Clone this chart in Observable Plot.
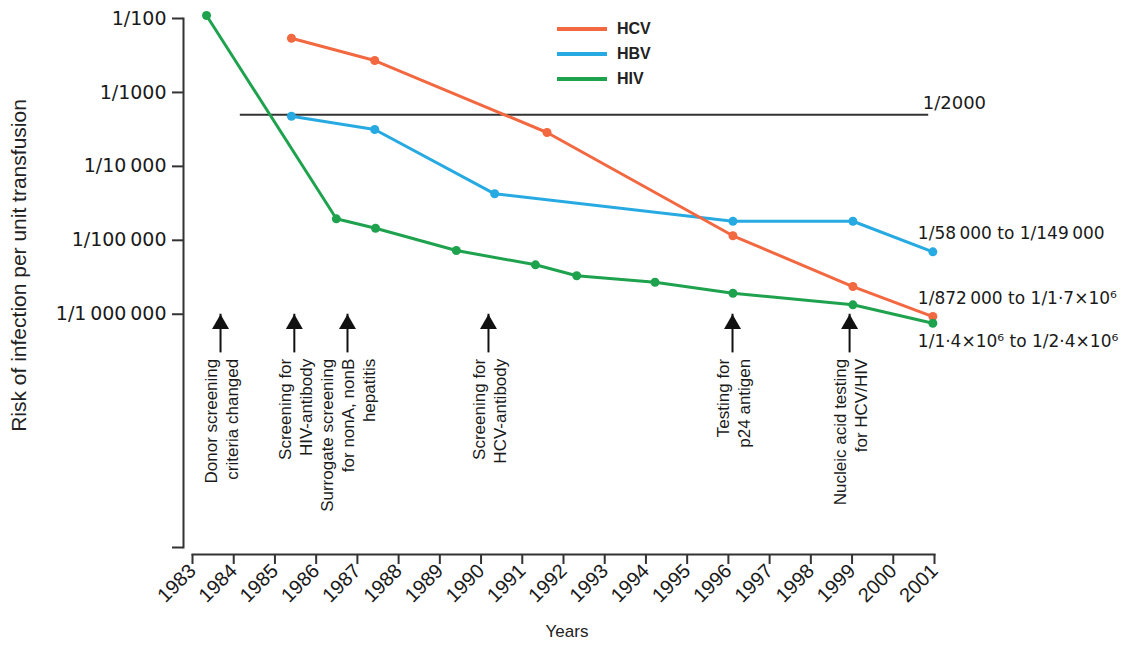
<!DOCTYPE html>
<html>
<head>
<meta charset="utf-8">
<script src="https://cdn.jsdelivr.net/npm/d3@7"></script>
<script src="https://cdn.jsdelivr.net/npm/@observablehq/plot@0.6"></script>
<style>
  body { margin: 0; background: #fff; }
  #wrap { position: relative; width: 1129px; height: 653px; }
  #legend { position: absolute; left: 557px; top: 16px; font: bold 16px "Liberation Sans", Arial, sans-serif; color: #222; }
  #legend .item { display: flex; align-items: center; height: 25px; }
  #legend .sw { width: 50px; height: 4px; margin-right: 10px; }
</style>
</head>
<body>
<div id="wrap"><div id="legend"></div></div>
<script>
// ---- Data (risk of infection per unit) ----
const seriesNames = ["HCV", "HBV", "HIV"];
const seriesColors = ["#f26841", "#27aae1", "#1fa24e"];

const yearsHCV = [1985.40, 1987.42, 1991.60, 1996.11, 1999.02, 2000.96];
const riskHCV  = [1/185, 1/370, 1/3483, 1/86900, 1/422000, 1/1074000];

const yearsHBV = [1985.40, 1987.42, 1990.33, 1996.11, 1999.02, 2000.96];
const riskHBV  = [1/2097, 1/3172, 1/23500, 1/55200, 1/55200, 1/143200];

const yearsHIV = [1983.34, 1986.49, 1987.44, 1989.40, 1991.32, 1992.32, 1994.22, 1996.11, 1999.02, 2000.96];
const riskHIV  = [1/91, 1/51200, 1/68600, 1/137400, 1/214500, 1/302000, 1/369000, 1/520000, 1/746000, 1/1322000];

const endLabels = {
  HBV: "1/58\u2009000 to 1/149\u2009000",
  HCV: "1/872\u2009000 to 1/1\u00b77\u00d710\u2076",
  HIV: "1/1\u00b74\u00d710\u2076 to 1/2\u00b74\u00d710\u2076"
};

const thresholdValue = 1/2000;
const thresholdLabel = "1/2000";
const thresholdSpan = [1984.16, 2000.86];

const eventYears = [1983.68, 1985.47, 1986.76, 1990.18, 1996.10, 1998.94];
const eventLabels = [
  "Donor screening\ncriteria changed",
  "Screening for\nHIV-antibody",
  "Surrogate screening\nfor nonA, nonB\nhepatitis",
  "Screening for\nHCV-antibody",
  "Testing for\np24 antigen",
  "Nucleic acid testing\nfor HCV/HIV"
];
const arrowTip = 1e-6, arrowBase = 3e-7, eventTextTop = 2.5e-7;

const xYears = d3.range(1983, 2002);
const yDomain = [7e-10, 1e-2];
const yTicks = [1e-2, 1e-3, 1e-4, 1e-5, 1e-6, 7e-10];
const yTickLabels = ["1/100", "1/1000", "1/10\u2009000", "1/100\u2009000", "1/1\u2009000\u2009000", ""];
const yLabel = "Risk of infection per unit transfusion";
const xLabel = "Years";

// ---- Build tables ----
const seriesData = [
  {name: "HBV", years: yearsHBV, risk: riskHBV},
  {name: "HCV", years: yearsHCV, risk: riskHCV},
  {name: "HIV", years: yearsHIV, risk: riskHIV}
];
const rows = seriesData.flatMap(s => s.years.map((yr, i) => ({series: s.name, year: yr, risk: s.risk[i]})));
const lastRows = seriesData.map(s => ({series: s.name, year: s.years[s.years.length - 1], risk: s.risk[s.risk.length - 1], text: endLabels[s.name]}));
const events = eventYears.map((yr, i) => ({year: yr, label: eventLabels[i]}));

const numFont = "DejaVu Sans, sans-serif";
const txtFont = "Liberation Sans, Arial, sans-serif";

const chart = Plot.plot({
  width: 1129,
  height: 653,
  marginLeft: 183,
  marginRight: 195,
  marginTop: 18,
  marginBottom: 99,
  style: {background: "#fff", color: "#222", fontFamily: txtFont},
  x: {domain: [1983, 2001], insetLeft: 9},
  y: {type: "log", domain: yDomain, insetBottom: 7},
  color: {domain: seriesNames, range: seriesColors},
  marks: [
    Plot.frame({anchor: "left", insetBottom: 7, stroke: "#333", strokeWidth: 2}),
    Plot.frame({anchor: "bottom", insetLeft: 9, stroke: "#333", strokeWidth: 2}),
    Plot.axisY({ticks: yTicks, tickFormat: d => yTickLabels[yTicks.indexOf(d)] ?? "", tickSize: 11, tickPadding: 6,
      strokeWidth: 2, stroke: "#333", fontSize: 19, fontFamily: numFont, fill: "#1a1a1a", label: null}),
    Plot.axisX({ticks: xYears, tickFormat: d => String(d), tickSize: 10, tickPadding: 3, tickRotate: -45,
      strokeWidth: 2, stroke: "#333", fontSize: 20, fontFamily: txtFont, fill: "#1a1a1a", label: null}),
    Plot.text([xLabel], {frameAnchor: "bottom", dx: 8, dy: 82, fontSize: 17, fill: "#222"}),
    Plot.text([yLabel], {frameAnchor: "left", rotate: -90, textAnchor: "middle", dx: -164, dy: -21, fontSize: 21, fill: "#222"}),
    // threshold
    Plot.ruleY([thresholdValue], {x1: thresholdSpan[0], x2: thresholdSpan[1], stroke: "#333", strokeWidth: 2}),
    Plot.text([thresholdValue], {x: thresholdSpan[1], y: d => d, text: () => thresholdLabel, textAnchor: "start",
      dx: -6, dy: -11, fontSize: 18, fontFamily: numFont, fill: "#1a1a1a"}),
    // series
    Plot.line(rows, {x: "year", y: "risk", z: "series", stroke: "series", strokeWidth: 3}),
    Plot.dot(rows, {x: "year", y: "risk", fill: "series", r: 4.5}),
    Plot.text(lastRows.filter(d => d.series !== "HIV"), {x: "year", y: "risk", text: "text", textAnchor: "start",
      dx: -15, dy: -18, fontSize: 17, fontFamily: numFont, fill: "#1a1a1a"}),
    Plot.text(lastRows.filter(d => d.series === "HIV"), {x: "year", y: "risk", text: "text", textAnchor: "start",
      dx: -15, dy: 18, fontSize: 17, fontFamily: numFont, fill: "#1a1a1a"}),
    // event arrows
    Plot.ruleX(events, {x: "year", y1: arrowTip, y2: arrowBase, stroke: "#111", strokeWidth: 2}),
    Plot.dot(events, {x: "year", y: arrowTip, symbol: "triangle", r: 6.3, fill: "#111", stroke: "none", dy: 9.8}),
    Plot.text(events, {x: "year", y: eventTextTop, text: "label", rotate: -90, textAnchor: "end",
      lineHeight: 1.24, fontSize: 17, fill: "#1a1a1a"})
  ]
});
document.getElementById("wrap").prepend(chart);

const legend = document.getElementById("legend");
seriesNames.forEach((n, i) => {
  const it = document.createElement("div");
  it.className = "item";
  it.innerHTML = `<span class="sw" style="background:${seriesColors[i]}"></span><span>${n}</span>`;
  legend.appendChild(it);
});
</script>
</body>
</html>
